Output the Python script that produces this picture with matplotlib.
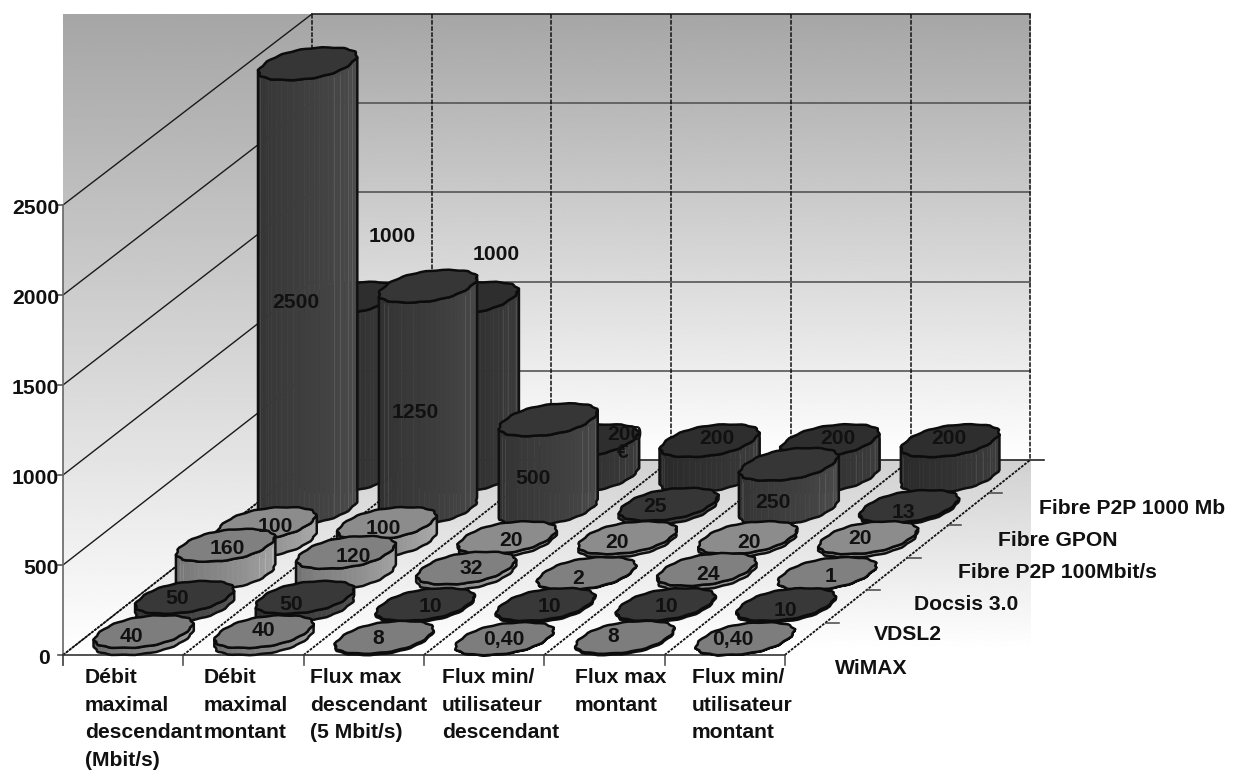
#!/usr/bin/env python3
# Oblique 3D cylinder chart of access network throughput, drawn on a flat
# pixel-scaled axes with a small projection helper.
import numpy as np
import matplotlib; matplotlib.use("Agg")
import matplotlib.pyplot as plt
from matplotlib.patches import Polygon

plt.rcParams["font.family"] = ["Liberation Sans", "DejaVu Sans"]
plt.rcParams["font.weight"] = "bold"

CATEGORIES = ["Débit\nmaximal\ndescendant\n(Mbit/s)", "Débit\nmaximal\nmontant",
              "Flux max\ndescendant\n(5 Mbit/s)", "Flux min/\nutilisateur\ndescendant",
              "Flux max\nmontant", "Flux min/\nutilisateur\nmontant"]
SERIES = ["WiMAX", "VDSL2", "Docsis 3.0", "Fibre P2P 100Mbit/s", "Fibre GPON", "Fibre P2P 1000 Mb"]
WIMAX = [40, 40, 8, 0.40, 8, 0.40]
VDSL2 = [50, 50, 10, 10, 10, 10]
DOCSIS = [160, 120, 32, 2, 24, 1]
P2P_100 = [100, 100, 20, 20, 20, 20]
GPON = [2500, 1250, 500, 25, 250, 13]
P2P_1000 = [1000, 1000, 200, 200, 200, 200]
VALUES = [WIMAX, VDSL2, DOCSIS, P2P_100, GPON, P2P_1000]
YTICKS = [0, 500, 1000, 1500, 2000, 2500]

# per-series fills: top face, light and dark end of the side
TOP_GREY = [0.49, 0.22, 0.50, 0.55, 0.21, 0.18]
SIDE_LIGHT = [0.62, 0.34, 0.66, 0.68, 0.30, 0.24]
SIDE_DARK = [0.40, 0.18, 0.44, 0.46, 0.19, 0.15]

# frame of the chart, in output pixels
X0, Y0 = 63, 655          # front left floor corner
CAT_W = 120.3             # width of a category along the front edge
BACK_X0, BACK_W = 312, 119.7   # same on the back edge of the floor
BACK_Y = 460
DEPTH = (41, -32.5)       # shift per series going back
Z_FRONT = 0.18            # px per unit at the front of the side wall
Z_BACK = 0.1784           # px per unit on the back wall
Z_BAR = 0.178             # px per unit on the cylinders
RX, RD = 43, 0.5          # cylinder radius: along x, and in series steps
N_FACETS = 56
FONT = 15.2

# data label centres
LABEL_XY = [
    [(131, 637), (263, 631), (378, 639), (504, 640), (613, 637), (733, 640)],
    [(177, 598), (291, 605), (430, 607), (549, 607), (666, 607), (785, 610)],
    [(227, 548), (353, 557), (471, 568), (578, 578), (708, 574), (831, 576)],
    [(275, 527), (383, 529), (511, 541), (617, 542), (749, 542), (860, 538)],
    [(296, 302), (415, 413), (533, 479), (655, 507), (773, 503), (903, 512)],
    [(392, 237), (496, 254), (625, 434), (717, 439), (838, 439), (949, 439)],
]
CAT_LABEL_X = [85, 204, 310, 442, 575, 692]
SERIES_LABEL_XY = [(835, 668), (874, 634), (914, 604), (958, 573), (998, 541), (1039, 508)]


def fmt(v):
    return f"{v:.2f}".replace(".", ",") if v < 1 else f"{v:g}"


def gradient(ax, x0, x1, y0, y1, g0, g1, clip=None):
    arr = np.linspace(g0, g1, 256)[:, None]
    im = ax.imshow(arr, extent=(x0, x1, y1, y0), cmap="gray", vmin=0, vmax=1,
                   aspect="auto", zorder=1, interpolation="bilinear")
    if clip is not None:
        patch = Polygon(clip, closed=True, transform=ax.transData, fc="none", ec="none")
        ax.add_patch(patch)
        im.set_clip_path(patch)


def cylinder(ax, cat, row, value, z):
    cx = X0 + CAT_W * (cat + 0.5) + DEPTH[0] * (row + 0.5)
    cy = Y0 + DEPTH[1] * (row + 0.5)
    vx, vy = RD * DEPTH[0], RD * DEPTH[1]
    h = value * Z_BAR
    # rounded, slightly lumpy sheared circle, walked clockwise from its right edge
    ang = np.linspace(2 * np.pi, 0, N_FACETS, endpoint=False)
    bump = 1 + 0.022 * np.cos(14 * ang + cat + 2 * row)
    a = np.sign(np.cos(ang)) * np.abs(np.cos(ang)) ** 0.88 * bump
    b = np.sign(np.sin(ang)) * np.abs(np.sin(ang)) ** 0.88 * bump
    px = cx + a * RX + b * vx
    py = cy + b * vy
    start = int(np.argmax(px))
    px, py = np.roll(px, -start), np.roll(py, -start)
    end = int(np.argmin(px))
    light, dark = SIDE_LIGHT[row], SIDE_DARK[row]
    for k in range(end):
        g = dark + (light - dark) * (1 - k / (end - 1))
        quad = [(px[k], py[k]), (px[k + 1], py[k + 1]),
                (px[k + 1], py[k + 1] - h), (px[k], py[k] - h)]
        ax.add_patch(Polygon(quad, closed=True, fc=str(g), ec=str(g), lw=0.4, zorder=z))
        # thin highlights bunch up towards both silhouette edges
        near_edge = k < end * 0.32 or k > end * 0.8
        if h > 25 and near_edge and k % 2 == 0:
            ax.plot([px[k], px[k]], [py[k] - 2, py[k] - h + 4], color=str(min(g + 0.09, 1)),
                    lw=0.6, zorder=z, solid_capstyle="butt")
    outline = list(zip(px[:end + 1], py[:end + 1])) + \
        list(zip(px[end::-1], py[end::-1] - h))
    ax.add_patch(Polygon(outline, closed=True, fc="none", ec="#101010", lw=1.8,
                         joinstyle="round", zorder=z))
    ax.add_patch(Polygon(np.column_stack([px, py - h]), closed=True, fc=str(TOP_GREY[row]),
                         ec="#0c0c0c", lw=1.8, joinstyle="round", zorder=z))


def main():
    fig = plt.figure(figsize=(12.36, 7.72), dpi=100)
    ax = fig.add_axes([0, 0, 1, 1])
    ax.set_xlim(0, 1236); ax.set_ylim(772, 0); ax.axis("off")

    n_cat, n_row = len(CATEGORIES), len(SERIES)
    back_right = BACK_X0 + BACK_W * n_cat
    front_right = X0 + CAT_W * n_cat
    wall_top = BACK_Y - YTICKS[-1] * Z_BACK

    # backdrop and walls
    gradient(ax, X0, back_right, wall_top, BACK_Y, 0.65, 1.0)
    gradient(ax, X0, back_right, BACK_Y, 650, 0.82, 1.0)
    left_wall = [(X0, wall_top), (BACK_X0, wall_top), (BACK_X0, BACK_Y), (X0, Y0)]
    gradient(ax, X0, BACK_X0 + 1, wall_top, Y0, 0.65, 1.0, clip=left_wall)

    # back wall grid
    for v in YTICKS:
        y = BACK_Y - v * Z_BACK
        ax.plot([BACK_X0, back_right + (14 if v == 0 else 0)], [y, y],
                color="#222222" if v in (0, 2500) else "#555555", lw=1.2, zorder=2)
    for c in range(n_cat + 1):
        x = BACK_X0 + BACK_W * c
        ax.plot([x, x], [wall_top, BACK_Y], color="#111111", lw=1.1, ls=(0, (3, 1)), zorder=2)

    # side wall grid and value ticks
    for v in YTICKS:
        y = Y0 - v * Z_FRONT
        ax.plot([X0, BACK_X0], [y, BACK_Y - v * Z_BACK], color="#1a1a1a", lw=1.0, zorder=2,
                ls="-" if v else (0, (2, 0.6)))
        ax.plot([X0 - 5, X0], [y, y], color="#555555", lw=1.2, zorder=2)
        ax.text(50 if v == 0 else 59, y + 3, f"{v}", ha="right", va="center", fontsize=FONT,
                color="#111111", zorder=6)
    ax.plot([X0, X0], [Y0 + 10, Y0 - YTICKS[-1] * Z_FRONT], color="#666666", lw=1.2, zorder=2)

    # floor grid
    for c in range(n_cat + 1):
        fx = X0 + CAT_W * c
        ax.plot([fx, BACK_X0 + BACK_W * c], [Y0, BACK_Y], color="#111111", lw=1.3,
                ls=(0, (1.5, 0.7)), zorder=2)
        ax.plot([fx, fx], [Y0, Y0 + 10], color="#555555", lw=1.2, zorder=2)
    ax.plot([X0, front_right], [Y0, Y0], color="#333333", lw=1.2, zorder=2)
    for r in range(1, n_row):
        x = front_right + (back_right - front_right) * r / n_row
        y = Y0 + (BACK_Y - Y0) * r / n_row
        ax.plot([x, x + 13], [y, y], color="#444444", lw=1.1, zorder=2)

    # cylinders, back row first
    z = 3.0
    for row in range(n_row - 1, -1, -1):
        for cat in range(n_cat):
            cylinder(ax, cat, row, VALUES[row][cat], z)
            z += 0.01

    # text
    for row in range(n_row):
        for cat in range(n_cat):
            lx, ly = LABEL_XY[row][cat]
            ax.text(lx, ly, fmt(VALUES[row][cat]), ha="center", va="center", fontsize=FONT,
                    color="#111111", zorder=8)
    ax.text(623, 452, "€", ha="center", va="center", fontsize=FONT, color="#111111", zorder=8)
    for lx, lab in zip(CAT_LABEL_X, CATEGORIES):
        ax.text(lx, 668, lab, ha="left", va="top", fontsize=FONT, linespacing=1.58,
                color="#111111", zorder=8)
    for (lx, ly), lab in zip(SERIES_LABEL_XY, SERIES):
        ax.text(lx, ly, lab, ha="left", va="center", fontsize=FONT, color="#111111", zorder=8)

    fig.savefig("out.png", dpi=100)


if __name__ == "__main__":
    main()
